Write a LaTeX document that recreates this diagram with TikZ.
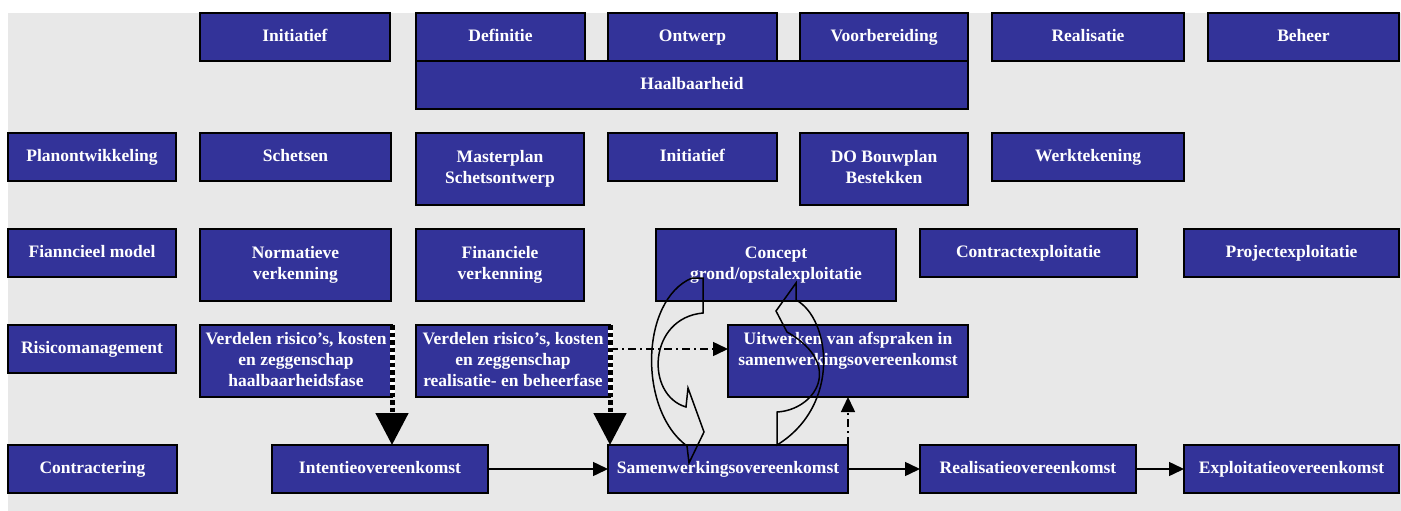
\documentclass[tikz,border=0pt]{standalone}
\usepackage{fontspec}
\setmainfont{Liberation Serif}
\usetikzlibrary{arrows.meta}
\definecolor{boxblue}{HTML}{333399}
\definecolor{paper}{HTML}{E8E8E8}

% box given by its top-left and bottom-right corners (in px-like pt units)
\newcommand\boxat[6]{%
  \node[box, anchor=north west,
        minimum width={(#4-#2)*1pt}, minimum height={(#5-#3)*1pt}]
        (#1) at (#2,#3) {#6};}
% one line of box text with a uniform height and depth
\newcommand\bl[1]{\strut#1}

\begin{document}
\begin{tikzpicture}[x=1pt,y=-1pt,
  box/.style={draw=black, line width=1.6pt, fill=boxblue, text=white,
    font=\fontsize{17.5}{21}\selectfont\bfseries, align=center,
    inner sep=0pt, outer sep=0pt},
  conn/.style={line width=1.5pt, -{Triangle[length=15pt,width=14pt]}},
  dashdot/.style={line width=1.5pt, dash pattern=on 8pt off 4pt on 2pt off 4pt,
    -{Triangle[length=15pt,width=14pt]}},
  bigdash/.style={line width=5pt, dash pattern=on 4.5pt off 3pt,
    -{Triangle[length=32pt,width=32pt]}},
  curved/.style={line width=1.5pt, line join=miter}]

\useasboundingbox (0,0) rectangle (1401,511);
\fill[paper] (8,13) rectangle (1401,511);

% phases
\boxat{ini}{200}{13}{390}{61}{\bl{Initiatief}}
\boxat{def}{416}{13}{585}{61}{\bl{Definitie}}
\boxat{ont}{608}{13}{777}{61}{\bl{Ontwerp}}
\boxat{voor}{800}{13}{968}{61}{\bl{Voorbereiding}}
\boxat{real}{992}{13}{1184}{61}{\bl{Realisatie}}
\boxat{beh}{1208}{13}{1399}{61}{\bl{Beheer}}
\boxat{haal}{416}{61}{968}{109}{\bl{Haalbaarheid}}

% planontwikkeling
\boxat{plan}{8}{133}{176}{181}{\bl{Planontwikkeling}}
\boxat{schets}{200}{133}{391}{181}{\bl{Schetsen}}
\boxat{master}{416}{133}{584}{205}{\bl{Masterplan}\\\bl{Schetsontwerp}}
\boxat{ini2}{608}{133}{777}{181}{\bl{Initiatief}}
\boxat{do}{800}{133}{968}{205}{\bl{DO Bouwplan}\\\bl{Bestekken}}
\boxat{werk}{992}{133}{1184}{181}{\bl{Werktekening}}

% financieel model
\boxat{fin}{8}{229}{176}{277}{\bl{Fianncieel model}}
\boxat{norm}{200}{229}{391}{301}{\bl{Normatieve}\\\bl{verkenning}}
\boxat{finv}{416}{229}{584}{301}{\bl{Financiele}\\\bl{verkenning}}
\boxat{concept}{656}{229}{896}{301}{\bl{Concept}\\\bl{grond/opstalexploitatie}}
\boxat{contract}{920}{229}{1137}{277}{\bl{Contractexploitatie}}
\boxat{project}{1184}{229}{1399}{277}{\bl{Projectexploitatie}}

% risicomanagement
\boxat{risico}{8}{325}{176}{373}{\bl{Risicomanagement}}
\boxat{verd1}{200}{325}{392}{397}{\bl{Verdelen risico’s, kosten}\\\bl{en zeggenschap}\\\bl{haalbaarheidsfase}}
\boxat{verd2}{416}{325}{610}{397}{\bl{Verdelen risico’s, kosten}\\\bl{en zeggenschap}\\\bl{realisatie- en beheerfase}}
\boxat{uitw}{728}{325}{968}{397}{\bl{Uitwerken van afspraken in}\\\bl{samenwerkingsovereenkomst}\\\bl{}}

% contractering
\boxat{contr}{8}{445}{177}{493}{\bl{Contractering}}
\boxat{intent}{272}{445}{488}{493}{\bl{Intentieovereenkomst}}
\boxat{samen}{608}{445}{848}{493}{\bl{Samenwerkingsovereenkomst}}
\boxat{realo}{920}{445}{1136}{493}{\bl{Realisatieovereenkomst}}
\boxat{expl}{1184}{445}{1399}{493}{\bl{Exploitatieovereenkomst}}

% contract sequence
\draw[conn] (intent) -- (samen);
\draw[conn] (samen) -- (realo);
\draw[conn] (realo) -- (expl);

% elaboration links
\draw[dashdot] ([yshift=12pt]verd2.east) -- ([yshift=12pt]uitw.west);
\draw[dashdot] (samen.north east) -- (samen.north east |- uitw.south);

% risk allocation feeds the agreements
\draw[white, line width=5pt] (verd1.north east) -- (verd1.south east);
\draw[white, line width=5pt] (verd2.north east) -- (verd2.south east);
\draw[bigdash] (verd1.north east) -- (verd1.north east |- intent.north);
\draw[bigdash] (verd2.north east) -- (verd2.north east |- samen.north);

% iteration between concept and agreement
\draw[curved] (692,278) -- (703,278) -- (703,313)
  .. controls (648,318) and (645,395) .. (686,407)
  -- (688,388) -- (704,432) -- (689,463) -- (687,446)
  .. controls (638,410) and (640,300) .. (692,278) -- cycle;
\draw[curved] (796,283) -- (796,300)
  .. controls (830,318) and (842,405) .. (777,445)
  -- (777,412)
  .. controls (815,410) and (845,365) .. (787,332)
  -- (776,311) -- cycle;
\end{tikzpicture}
\end{document}
